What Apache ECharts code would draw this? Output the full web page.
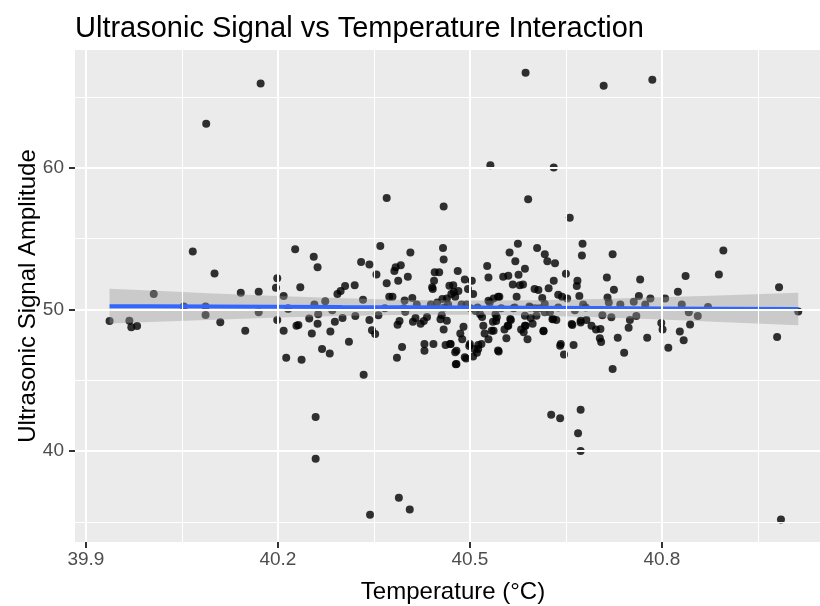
<!DOCTYPE html>
<html>
<head>
<meta charset="utf-8">
<script src="https://cdn.jsdelivr.net/npm/echarts@6/dist/echarts.min.js"></script>
<style>
  html, body { margin: 0; padding: 0; background: #ffffff; }
  #chart { width: 820px; height: 606px; }
</style>
</head>
<body>
<div id="chart"></div>
<script>
// temperature (°C) and signal amplitude
var tempC = [
  39.937, 39.968, 39.971, 39.980, 40.006, 40.053, 40.067, 40.087, 40.087, 40.101,
  40.110, 40.142, 40.149, 40.170, 40.170, 40.199, 40.197, 40.199, 40.209, 40.209,
  40.213, 40.216, 40.227, 40.229, 40.232, 40.235, 40.237, 40.249, 40.253, 40.256,
  40.257, 40.262, 40.262, 40.263, 40.269, 40.274, 40.281, 40.282, 40.285, 40.289,
  40.293, 40.298, 40.301, 40.305, 40.311, 40.320, 40.321, 40.330, 40.333, 40.343,
  40.343, 40.347, 40.352, 40.354, 40.357, 40.360, 40.367, 40.370, 40.374, 40.379,
  40.382, 40.384, 40.386, 40.387, 40.388, 40.390, 40.392, 40.394, 40.397, 40.398,
  40.403, 40.407, 40.410, 40.411, 40.415, 40.417, 40.423, 40.428, 40.429, 40.429,
  40.433, 40.439, 40.441, 40.443, 40.442, 40.445, 40.449, 40.452, 40.454, 40.456,
  40.458, 40.459, 40.459, 40.462, 40.464, 40.464, 40.466, 40.470, 40.474, 40.475,
  40.477, 40.478, 40.479, 40.481, 40.482, 40.485, 40.487, 40.488, 40.490, 40.492,
  40.494, 40.495, 40.497, 40.499, 40.501, 40.503, 40.505, 40.505, 40.507, 40.509,
  40.511, 40.512, 40.513, 40.516, 40.519, 40.521, 40.523, 40.527, 40.529, 40.529,
  40.531, 40.534, 40.536, 40.537, 40.540, 40.541, 40.545, 40.546, 40.549, 40.552,
  40.554, 40.557, 40.559, 40.560, 40.562, 40.564, 40.567, 40.568, 40.571, 40.573,
  40.575, 40.576, 40.578, 40.580, 40.583, 40.586, 40.587, 40.590, 40.593, 40.595,
  40.598, 40.601, 40.602, 40.605, 40.607, 40.609, 40.613, 40.615, 40.617, 40.621,
  40.623, 40.625, 40.629, 40.631, 40.633, 40.635, 40.638, 40.642, 40.644, 40.647,
  40.650, 40.652, 40.660, 40.662, 40.664, 40.667, 40.668, 40.671, 40.673, 40.675,
  40.676, 40.677, 40.681, 40.682, 40.690, 40.697, 40.703, 40.705, 40.707, 40.714,
  40.715, 40.717, 40.721, 40.723, 40.723, 40.725, 40.731, 40.735, 40.741, 40.748,
  40.750, 40.756, 40.760, 40.764, 40.766, 40.774, 40.777, 40.782, 40.799, 40.801,
  40.805, 40.810, 40.825, 40.828, 40.831, 40.834, 40.837, 40.842, 40.844, 40.856,
  40.872, 40.889, 40.896, 40.980, 40.983, 41.013,
  40.216, 40.673, 40.704, 40.444, 40.468, 40.471, 40.457, 40.460, 40.399, 40.529,
  40.544, 40.570, 40.594, 40.617, 40.638, 40.586, 40.604, 40.617, 40.630, 40.659,
  40.542, 40.563, 40.537, 40.560, 40.586, 40.584, 40.615, 40.544, 40.641, 40.469,
  40.477, 40.479, 40.492, 40.500, 40.513, 40.518,
  40.173, 40.088, 40.587, 40.709, 40.785, 40.532, 40.631, 40.370, 40.459, 40.591,
  40.656, 40.259, 40.259, 40.344, 40.389, 40.406, 40.627, 40.641, 40.673, 40.669,
  40.673, 40.986, 40.334
];
var amplitude = [
  49.18, 49.20, 48.74, 48.82, 51.08, 50.21, 54.08, 50.21, 49.61, 52.53,
  49.10, 51.17, 48.50, 51.25, 49.80, 52.19, 51.52, 49.25, 50.95, 48.50,
  46.59, 50.08, 54.24, 48.84, 48.90, 51.57, 46.45, 49.36, 48.30, 53.72,
  50.35, 52.98, 48.98, 49.66, 47.21, 50.57, 46.89, 48.44, 49.94, 49.12,
  51.08, 51.30, 49.40, 51.65, 47.71, 51.71, 49.53, 53.35, 50.68, 53.16,
  49.25, 48.52, 48.27, 52.47, 49.58, 54.48, 50.08, 51.84, 50.89, 50.89,
  52.71, 52.98, 46.59, 48.92, 52.03, 49.18, 53.12, 47.35, 50.08, 50.62,
  52.30, 54.02, 50.81, 49.12, 49.40, 50.35, 48.98, 49.18, 47.55, 47.08,
  49.47, 50.35, 51.57, 47.55, 51.44, 52.63, 50.49, 52.63, 49.31, 49.58,
  54.34, 53.53, 48.58, 47.49, 50.76, 49.20, 50.35, 47.55, 51.71, 51.22,
  50.89, 46.13, 47.08, 52.71, 51.30, 48.30, 50.35, 47.90, 48.77, 52.11,
  46.54, 50.35, 51.44, 47.41, 50.08, 52.03, 46.67, 51.08, 47.21, 49.88,
  46.94, 50.14, 47.49, 49.66, 49.47, 48.84, 48.30, 53.07, 52.25, 47.90,
  50.49, 48.50, 49.12, 50.76, 49.66, 49.18, 47.02, 50.89, 50.08, 52.30,
  48.58, 47.96, 48.84, 52.38, 54.02, 49.25, 51.76, 50.08, 53.40, 50.89,
  54.64, 52.44, 51.71, 48.58, 51.76, 52.87, 48.84, 47.90, 50.21, 49.40,
  48.98, 51.44, 50.08, 54.34, 51.36, 50.08, 50.81, 48.50, 53.89, 53.40,
  51.49, 49.80, 49.31, 52.03, 53.26, 49.25, 51.03, 47.55, 50.89, 46.81,
  52.52, 50.76, 48.90, 47.49, 49.94, 51.65, 52.03, 50.95, 49.20, 53.81,
  54.64, 50.35, 50.14, 49.25, 48.84, 48.58, 47.96, 47.69, 49.58, 52.25,
  50.84, 50.49, 49.45, 53.89, 45.80, 51.38, 48.00, 50.35, 46.94, 48.71,
  49.25, 50.54, 49.53, 50.95, 52.11, 50.35, 48.00, 50.76, 49.04, 48.58,
  50.76, 47.30, 51.25, 48.44, 50.35, 47.82, 52.36, 49.80, 48.93, 49.53,
  50.16, 52.47, 54.16, 48.05, 51.57, 49.85,
  50.02, 49.08, 48.62, 52.02, 51.67, 51.08, 50.73, 50.14, 49.83, 50.61,
  50.89, 50.14, 50.14, 50.38, 50.14, 49.55, 49.55, 49.79, 49.32, 48.97,
  49.44, 49.32, 48.50, 48.85, 48.85, 48.38, 48.45, 47.09, 47.44, 47.56,
  46.97, 46.15, 46.62, 47.56, 47.21, 47.56,
  65.94, 63.11, 66.70, 65.78, 66.21, 60.17, 60.01, 57.86, 57.26, 57.78,
  56.47, 42.40, 39.45, 35.51, 36.71, 35.87, 42.57, 42.31, 42.92, 41.26,
  40.00, 35.16, 45.38
];

// linear fit line and its confidence band
var fitX = [39.937, 40.0, 40.1, 40.2, 40.3, 40.4, 40.5, 40.6, 40.7, 40.8, 40.9, 41.013];
var fitY = [50.23, 50.22, 50.20, 50.18, 50.16, 50.15, 50.13, 50.11, 50.09, 50.07, 50.05, 50.03];
var bandLow = [49.01, 49.11, 49.27, 49.42, 49.54, 49.63, 49.63, 49.57, 49.45, 49.29, 49.10, 48.88];
var bandHigh = [51.45, 51.33, 51.13, 50.94, 50.78, 50.67, 50.63, 50.65, 50.73, 50.85, 51.00, 51.18];

// ticks and grid lines
var xTicks = [39.9, 40.2, 40.5, 40.8];
var xMinor = [40.05, 40.35, 40.65, 40.95];
var yTicks = [40, 50, 60];
var yMinor = [35, 45, 55, 65];

var FONT = '"Liberation Sans", Arial, sans-serif';

var chart = echarts.init(document.getElementById('chart'));

var points = tempC.map(function (t, i) { return [t, amplitude[i]]; });
var fitLine = fitX.map(function (x, i) { return [x, fitY[i]]; });

var gridLines = [];
xTicks.forEach(function (v) { gridLines.push({ xAxis: v, lineStyle: { width: 2 } }); });
xMinor.forEach(function (v) { gridLines.push({ xAxis: v, lineStyle: { width: 1.1 } }); });
yTicks.forEach(function (v) { gridLines.push({ yAxis: v, lineStyle: { width: 2 } }); });
yMinor.forEach(function (v) { gridLines.push({ yAxis: v, lineStyle: { width: 1.1 } }); });

var option = {
  animation: false,
  backgroundColor: '#ffffff',
  title: {
    text: 'Ultrasonic Signal vs Temperature Interaction',
    left: 70,
    top: 9,
    textStyle: { fontFamily: FONT, fontSize: 29, fontWeight: 'normal', color: '#000000' }
  },
  grid: {
    left: 75, top: 50, right: 0, bottom: 64,
    show: true, backgroundColor: '#EBEBEB', borderWidth: 0
  },
  xAxis: {
    type: 'value',
    min: 39.883,
    max: 41.047,
    axisLine: { show: false },
    splitLine: { show: false },
    axisTick: { show: true, customValues: xTicks, length: 6, lineStyle: { color: '#333333', width: 2 } },
    axisLabel: { customValues: xTicks, margin: 8, fontFamily: FONT, fontSize: 19, color: '#4D4D4D' }
  },
  yAxis: {
    type: 'value',
    min: 33.58,
    max: 68.31,
    axisLine: { show: false },
    splitLine: { show: false },
    axisTick: { show: true, customValues: yTicks, length: 6, lineStyle: { color: '#333333', width: 2 } },
    axisLabel: { customValues: yTicks, margin: 11, fontFamily: FONT, fontSize: 19, color: '#4D4D4D' }
  },
  graphic: [
    {
      type: 'text', x: 453, y: 592,
      style: { text: 'Temperature (°C)', font: '24px ' + FONT, fill: '#000000',
               textAlign: 'center', textVerticalAlign: 'middle' }
    },
    {
      type: 'text', x: 28, y: 296, rotation: Math.PI / 2,
      style: { text: 'Ultrasonic Signal Amplitude', font: '24px ' + FONT, fill: '#000000',
               textAlign: 'center', textVerticalAlign: 'middle' }
    }
  ],
  series: [
    {
      // panel grid lines
      type: 'scatter',
      data: [],
      z: 1,
      silent: true,
      markLine: {
        silent: true,
        symbol: 'none',
        animation: false,
        label: { show: false },
        lineStyle: { color: '#ffffff', type: 'solid' },
        data: gridLines
      }
    },
    {
      type: 'scatter',
      data: points,
      symbol: 'circle',
      symbolSize: 8,
      itemStyle: { color: '#000000' },
      z: 2
    },
    {
      // confidence band
      type: 'custom',
      z: 3,
      silent: true,
      data: [[fitX[0], fitY[0]]],
      renderItem: function (params, api) {
        var pts = [];
        for (var i = 0; i < fitX.length; i++) pts.push(api.coord([fitX[i], bandHigh[i]]));
        for (var j = fitX.length - 1; j >= 0; j--) pts.push(api.coord([fitX[j], bandLow[j]]));
        return { type: 'polygon', shape: { points: pts }, style: { fill: 'rgba(153,153,153,0.4)' } };
      }
    },
    {
      type: 'line',
      data: fitLine,
      showSymbol: false,
      z: 4,
      lineStyle: { color: '#3366FF', width: 4 }
    }
  ]
};

chart.setOption(option);
</script>
</body>
</html>
